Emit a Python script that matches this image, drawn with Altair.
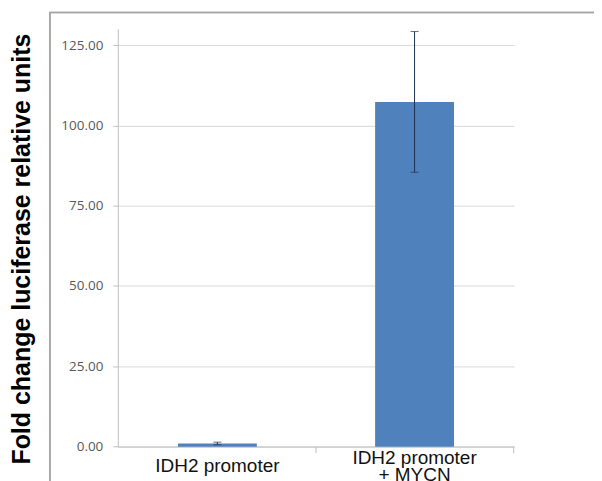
import altair as alt
import pandas as pd

categories = ["IDH2 promoter", "IDH2 promoter|+ MYCN"]
means = [1.0, 107.3]
errors = [0.4, 21.9]
y_ticks = [0, 25, 50, 75, 100, 125]

df = pd.DataFrame({
    "cat": categories,
    "mean": means,
    "low": [m - e for m, e in zip(means, errors)],
    "high": [m + e for m, e in zip(means, errors)],
})

x_scale = alt.Scale(domain=categories, paddingInner=0.6, paddingOuter=0.305)

x_enc = alt.X(
    "cat:N",
    sort=categories,
    scale=x_scale,
    axis=alt.Axis(
        title=None,
        labels=False,
        tickOffset=98.75,
        tickColor="#BFBFBF",
        tickSize=6,
        domainColor="#BFBFBF",
        grid=False,
    ),
)

y_scale = alt.Scale(domain=[0, 130], nice=False)

bars = alt.Chart(df).mark_bar(color="#4F81BD").encode(
    x=x_enc,
    y=alt.Y(
        "mean:Q",
        scale=y_scale,
        axis=alt.Axis(
            values=y_ticks,
            format=".2f",
            title="Fold change luciferase relative units",
            titleFont="Liberation Sans",
            titleFontSize=25,
            titleFontWeight="bold",
            titleColor="#000000",
            titleAngle=270,
            titleAlign="center",
            titleBaseline="alphabetic",
            titleX=-88,
            titleY=220,
            labelFont="Open Sans",
            labelFontSize=13.5,
            labelColor="#595959",
            labelPadding=10,
            tickColor="#BFBFBF",
            tickSize=5,
            domainColor="#BFBFBF",
            gridColor="#D9D9D9",
            gridWidth=1,
        ),
    ),
)

err_rule = alt.Chart(df).mark_rule(color="#1F3050", strokeWidth=1).encode(
    x=alt.X("cat:N", scale=x_scale),
    y=alt.Y("low:Q", scale=y_scale),
    y2="high:Q",
)
err_cap_hi = alt.Chart(df).mark_tick(color="#1F3050", size=8, thickness=1).encode(
    x=alt.X("cat:N", scale=x_scale),
    y=alt.Y("high:Q", scale=y_scale),
)
err_cap_lo = alt.Chart(df).mark_tick(color="#1F3050", size=8, thickness=1).encode(
    x=alt.X("cat:N", scale=x_scale),
    y=alt.Y("low:Q", scale=y_scale),
)

label_style = dict(
    lineBreak="|",
    font="Liberation Sans",
    fontSize=19,
    color="#111111",
    baseline="middle",
    align="center",
    lineHeight=17,
)

labels_single = alt.Chart(df).transform_filter(
    alt.FieldOneOfPredicate(field="cat", oneOf=[categories[0]])
).mark_text(**label_style).encode(
    x=alt.X("cat:N", scale=x_scale),
    y=alt.value(438),
    text="cat:N",
)

labels_multi = alt.Chart(df).transform_filter(
    alt.FieldOneOfPredicate(field="cat", oneOf=[categories[1]])
).mark_text(**label_style).encode(
    x=alt.X("cat:N", scale=x_scale),
    y=alt.value(430),
    text="cat:N",
)

frame = alt.Chart(df).mark_rect(fill=None, stroke="#A6A6A6", strokeWidth=1.5).encode(
    x=alt.value(-68), x2=alt.value(700), y=alt.value(-16.6), y2=alt.value(700)
)

chart = alt.layer(
    frame, bars, err_rule, err_cap_hi, err_cap_lo, labels_single, labels_multi
).properties(
    width=397,
    height=418.4,
    autosize=alt.AutoSizeParams(type="none"),
    padding={"left": 110, "top": 20.6, "right": 80, "bottom": 34},
).configure_view(stroke=None)

chart.save("out.html", embed_options={"renderer": "svg", "actions": False})
